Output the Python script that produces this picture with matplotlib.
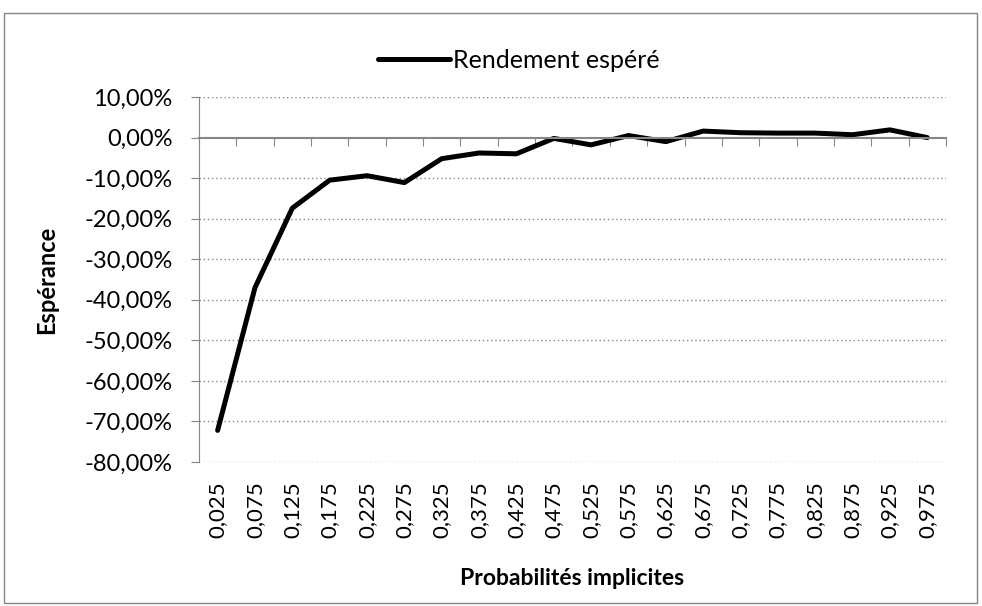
import matplotlib.pyplot as plt
from matplotlib.patches import Rectangle
from matplotlib.ticker import FuncFormatter, FixedLocator

probas = ["0,025", "0,075", "0,125", "0,175", "0,225", "0,275", "0,325", "0,375",
          "0,425", "0,475", "0,525", "0,575", "0,625", "0,675", "0,725", "0,775",
          "0,825", "0,875", "0,925", "0,975"]
esperance = [-72.2, -37.0, -17.4, -10.5, -9.4, -11.1, -5.2, -3.8, -4.0, -0.2,
             -1.8, 0.5, -1.0, 1.6, 1.2, 1.1, 1.1, 0.7, 1.9, 0.0]
y_ticks = [10, 0, -10, -20, -30, -40, -50, -60, -70, -80]

gray = "#868686"
plt.rcParams['font.family'] = ['Lato', 'DejaVu Sans']

fig = plt.figure(figsize=(9.82, 6.06), dpi=100)
ax = fig.add_axes([0.2026, 0.2376, 0.7607, 0.6023])
fig.patches.append(Rectangle((0.004, 0.005), 0.991, 0.973, transform=fig.transFigure,
                             fill=False, edgecolor=gray, linewidth=1))

x = list(range(len(probas)))
line, = ax.plot(x, esperance, color="black", linewidth=3.6, solid_joinstyle="round",
                solid_capstyle="round", label="Rendement espéré")

ax.set_xlim(-0.5, len(probas) - 0.5)
ax.set_ylim(-80, 10)
ax.set_yticks(y_ticks)
ax.yaxis.set_major_formatter(FuncFormatter(lambda v, p: f"{v:.2f}%".replace(".", ",")))
ax.tick_params(axis="y", direction="out", length=6, color=gray, labelsize=17, pad=13)
for v in y_ticks:
    if v != 0:
        ax.axhline(v, color=gray, linestyle=(0, (1, 2)), linewidth=1, zorder=0)

for s in ["top", "right"]:
    ax.spines[s].set_visible(False)
ax.spines["left"].set_color(gray)
ax.spines["bottom"].set_position(("data", 0))
ax.spines["bottom"].set_color(gray)
ax.spines["bottom"].set_linewidth(1.5)
ax.xaxis.set_major_locator(FixedLocator([i - 0.5 for i in range(len(probas) + 1)]))
ax.tick_params(axis="x", direction="out", length=6, color=gray, labelbottom=False)

sec = ax.secondary_xaxis("bottom")
sec.set_xticks(x)
sec.set_xticklabels(probas, rotation=90, fontsize=16)
sec.tick_params(length=0, pad=14)
sec.spines["bottom"].set_visible(False)
sec.set_xlabel("Probabilités implicites", fontsize=16.5, fontweight="bold", labelpad=21)

ax.set_ylabel("Espérance", fontsize=17, fontweight="bold", labelpad=19)

fig.legend(handles=[line], loc="center", bbox_to_anchor=(0.528, 0.9), frameon=False,
           fontsize=18, handlelength=2.9, handletextpad=0.1)

fig.savefig("out.png", dpi=100)
